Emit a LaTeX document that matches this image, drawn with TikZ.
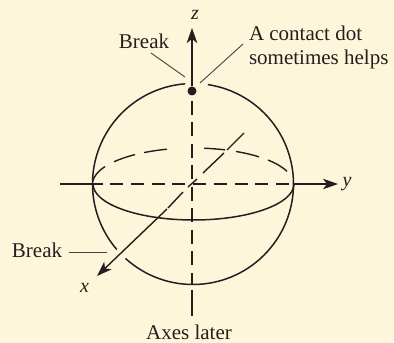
\documentclass[tikz,border=0pt]{standalone}
\usepackage{fontspec}
\setmainfont{Liberation Serif}
\usetikzlibrary{arrows.meta}
\definecolor{paper}{HTML}{FEF6DA}
\definecolor{ink}{HTML}{231F20}
\begin{document}
\begin{tikzpicture}[x=1pt,y=1pt,
  curve/.style={draw=ink,line width=1.5pt},
  axisline/.style={draw=ink,line width=1.4pt},
  dashline/.style={draw=ink,line width=1.4pt,dash pattern=on 13pt off 7.7pt},
  leader/.style={draw=ink!85,line width=0.9pt},
  lab/.style={text=ink,font=\fontsize{21}{24}\selectfont,inner sep=0pt,outer sep=0pt},
  axlab/.style={text=ink,font=\fontsize{20}{24}\selectfont\itshape,inner sep=0pt,outer sep=0pt},
  tip/.style={-{Stealth[length=15pt,width=10.5pt,inset=4pt]}}]
\fill[paper] (0,0) rectangle (394,343);
\useasboundingbox (0,0) rectangle (394,343);
% coordinates
\coordinate (C) at (193,159);
\coordinate (L) at (93,159);
\coordinate (R) at (294,159);
\coordinate (Yw) at (60,159);
\coordinate (Yt) at (338,159);
\coordinate (Zt) at (192,315);
\coordinate (Zd) at (192,242);
\coordinate (Ze) at (192,58);
\coordinate (Zf) at (192,53);
\coordinate (Zb) at (192,27);
\coordinate (Xm) at (167,134);
\coordinate (Xt) at (97,67);
\coordinate (Bt) at (185,266);
\coordinate (Bs) at (151,290);
\coordinate (Ct) at (200,260);
\coordinate (Cs) at (243,299);
\coordinate (Bb) at (107,91);
\coordinate (Ba) at (69,91);
% labels
\node[lab] (brk1) at (144,302) {Break};
\node[lab,anchor=west] (dot1) at (249,310) {A contact dot};
\node[lab,anchor=west] (dot2) at (249,284) {sometimes helps};
\node[lab] (brk2) at (37,93) {Break};
\node[lab] (later) at (189,10.5) {Axes later};
\node[axlab] (zl) at (195,328) {z};
\node[axlab] (yl) at (347,159) {y};
\node[axlab] (xl) at (84.5,55) {x};
\node[circle,fill=ink,inner sep=0pt,minimum size=9pt] (dot) at (192,252) {};
% sphere
\path[curve] (193,159) ++(94.5:100.5) arc[start angle=94.5,end angle=220.7,radius=100.5];
\path[curve] (193,159) ++(227.8:100.5) arc[start angle=227.8,end angle=441.5,radius=100.5];
% equator
\path[curve] (L) arc[start angle=180,end angle=360,x radius=100.5,y radius=36];
\foreach \a/\b in {176/151,141.8/125.2,119.2/105,83.7/71.4,64.7/48.9,41.7/20.7}
  \path[axisline] (193,159) ++(\a:100.5 and 36) arc[start angle=\a,end angle=\b,x radius=100.5,y radius=36];
% axes
\path[axisline,line width=1.7pt,tip] (dot) -- (Zt);
\path[dashline,dash pattern=on 14pt off 7.5pt] (Zd) -- (Ze);
\path[axisline] (Zf) -- (Zb);
\path[axisline] (Yw) -- (L);
\path[dashline,dash phase=3.4pt] (L) -- (R);
\path[axisline,tip] (R) -- (Yt);
\path[axisline] (244,210) -- (227,193);
\path[axisline] (224,190) -- (203,170);
\path[axisline] (197,164) -- (188,156);
\path[axisline] (183,151) -- (168,135);
\path[axisline,tip] (Xm) -- (Xt);
% leaders
\path[leader] (Bs) -- (Bt);
\path[leader] (Cs) -- (Ct);
\path[leader] (Ba) -- (Bb);
\end{tikzpicture}
\end{document}
